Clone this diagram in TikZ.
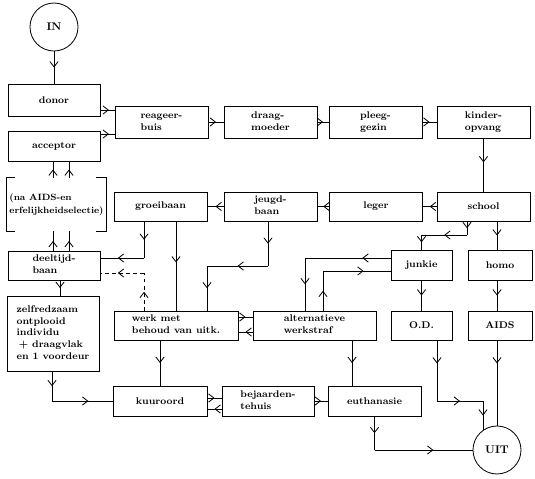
\documentclass[tikz,border=0pt]{standalone}
\usetikzlibrary{arrows.meta, decorations.markings}

% left-aligned block of lines, centred in its box
\newcommand{\stk}[1]{\begin{tabular}{@{}l@{}}#1\end{tabular}}

\begin{document}
\begin{tikzpicture}[
    x=0.03cm, y=-0.03cm,
    line width=0.7pt,
    box/.style={draw, minimum width=2.79cm, minimum height=0.9cm,
                inner sep=1pt,
                font=\fontsize{8.3}{10}\selectfont\bfseries},
    term/.style={draw, circle, minimum size=1.44cm, inner sep=0pt,
                 font=\fontsize{9.5}{11}\selectfont\bfseries},
    sel/.style={minimum width=2.97cm, minimum height=1.59cm, inner sep=0pt,
                font=\fontsize{7.8}{11}\selectfont\bfseries},
    arr/.style={postaction={decorate},
                decoration={markings, mark=at position #1 with
                  {\arrow{Straight Barb[length=4.5pt,width=7pt]}}}},
    arr/.default=0.5
]
  \useasboundingbox (0,0) rectangle (535,478);

  % begin and end
  \node[term] (in) at (54,27) {IN};
  \node[term] (uit) at (497,450) {UIT};

  % left column
  \node[box,minimum width=2.76cm,minimum height=0.96cm] (donor) at (54,100) {donor};
  \node[box,minimum width=2.76cm] (acceptor) at (54,146) {acceptor};
  \node[sel] (selectie) at (56.5,204.5) {\stk{(na AIDS-en\\erfelijkheidselectie)}};
  \node[box,minimum width=2.76cm,minimum height=0.87cm] (deeltijd) at (54,265.5) {\stk{deeltijd-\\baan}};
  \node[box,minimum width=2.76cm,minimum height=2.25cm] (zelf) at (53,333.5)
       {\stk{zelfredzaam\\ontplooid\\individu\\\hspace{2pt}+ draagvlak\\en 1 voordeur}};

  % top row
  \node[box,minimum height=0.96cm] (reageer) at (161.5,122) {\stk{reageer-\\buis}};
  \node[box,minimum height=0.96cm] (draag) at (270.5,122) {\stk{draag-\\moeder}};
  \node[box,minimum height=0.96cm] (pleeg) at (375.5,122) {\stk{pleeg-\\gezin}};
  \node[box,minimum height=0.96cm] (kinder) at (483.5,122) {\stk{kinder-\\opvang}};

  % second row
  \node[box,minimum height=0.87cm] (school) at (483.5,206.5) {school};
  \node[box,minimum height=0.87cm] (leger) at (376,206.5) {leger};
  \node[box,minimum height=0.87cm] (jeugd) at (270.5,206.5) {\stk{jeugd-\\baan}};
  \node[box,minimum height=0.87cm] (groei) at (160.5,206.5) {groeibaan};

  % right side
  \node[box,minimum width=1.83cm] (junkie) at (421.5,265) {junkie};
  \node[box,minimum width=1.92cm] (homo) at (500,265) {homo};
  \node[box,minimum width=1.83cm,minimum height=0.87cm] (od) at (421.5,325.5) {O.D.};
  \node[box,minimum width=1.92cm,minimum height=0.87cm] (aids) at (500,325.5) {AIDS};

  % work
  \node[box,minimum width=3.72cm,minimum height=0.87cm] (werk) at (176,325.5) {\stk{werk met\\behoud van uitk.}};
  \node[box,minimum width=3.69cm,minimum height=0.87cm] (alt) at (314.5,325.5) {\stk{alternatieve\\werkstraf}};

  % bottom row
  \node[box,minimum width=2.82cm] (kuur) at (160,401) {kuuroord};
  \node[box,minimum width=2.76cm] (bej) at (268,401) {\stk{bejaarden-\\tehuis}};
  \node[box] (euth) at (374.5,401) {euthanasie};

  % brackets round the selection
  \draw ([xshift=0.24cm]selectie.north west) -- (selectie.north west)
        -- (selectie.south west) -- ++(8,0);
  \draw ([xshift=-0.3cm]selectie.north east) -- (selectie.north east)
        -- (selectie.south east) -- ++(-10,0);

  % bends
  \coordinate (gb) at (144,258);
  \coordinate (wb) at (144,273);
  \coordinate (jb1) at (268,266);
  \coordinate (jb2) at (207,266);
  \coordinate (sj1) at (467,235);
  \coordinate (sj2) at (421.5,235);
  \coordinate (ja) at (305,258);
  \coordinate (aj) at (323,271);
  \coordinate (zk) at (52,401);
  \coordinate (ou) at (437,401);
  \coordinate (eu) at (euth.south |- uit.west);

  % arrows
  \draw[arr] (in) -- (donor);
  \draw[arr=0.6] (donor.east |- 0,110) -- (reageer.west |- 0,110);
  \draw[arr=0.6] (acceptor.east |- 0,134) -- (reageer.west |- 0,134);
  \draw[arr] (reageer) -- (draag);
  \draw[arr] (draag) -- (pleeg);
  \draw[arr] (pleeg) -- (kinder);
  \draw[arr=0.45] (kinder) -- (school);
  \draw[arr] (school) -- (leger);
  \draw[arr] (leger) -- (jeugd);
  \draw[arr] (jeugd) -- (groei);

  \draw[arr] (selectie.north -| 53,0) -- (acceptor.south -| 53,0);
  \draw[arr] (selectie.north -| 69,0) -- (acceptor.south -| 69,0);
  \draw[arr] (deeltijd.north -| 53,0) -- (selectie.south -| 53,0);
  \draw[arr] (deeltijd.north -| 69,0) -- (selectie.south -| 69,0);
  \draw[arr] (deeltijd.south -| 60,0) -- (zelf.north -| 60,0);

  \draw[arr] (groei.south -| gb) -- (gb);
  \draw[arr=0.6] (gb) -- (deeltijd.east |- gb);
  \draw[arr,dashed] (werk.north -| wb) -- (wb);
  \draw[arr=0.6,dashed] (wb) -- (deeltijd.east |- wb);
  \draw[arr=0.46] (groei.south -| 176,0) -- (werk.north -| 176,0);

  \draw[arr] (jeugd.south -| jb1) -- (jb1);
  \draw[arr] (jb1) -- (jb2);
  \draw[arr] (jb2) -- (werk.north -| jb2);

  \draw[arr] (school.south -| sj1) -- (sj1);
  \draw[arr] (sj1) -- (sj2);
  \draw[arr] (sj2) -- (junkie.north);
  \draw[arr] (school.south -| 497,0) -- (homo.north -| 497,0);
  \draw[arr] (junkie) -- (od);
  \draw[arr] (homo.south -| 497,0) -- (aids.north -| 497,0);

  \draw[arr=0.33] (junkie.west |- ja) -- (ja);
  \draw[arr] (ja) -- (alt.north -| ja);
  \draw[arr] (alt.north -| aj) -- (aj);
  \draw[arr=0.6] (aj) -- (junkie.west |- aj);

  \draw[arr] (werk.east |- 0,317) -- (alt.west |- 0,317);
  \draw[arr] (alt.west |- 0,332) -- (werk.east |- 0,332);
  \draw[arr] (werk.south -| kuur.north) -- (kuur.north);
  \draw[arr] (alt.south -| 352,0) -- (euth.north -| 352,0);

  \draw[arr] (zelf.south -| zk) -- (zk);
  \draw[arr=0.6] (zk) -- (kuur.west);
  \draw[arr] (kuur.east |- 0,398) -- (bej.west |- 0,398);
  \draw[arr] (bej.west |- 0,409) -- (kuur.east |- 0,409);
  \draw[arr] (bej) -- (euth);

  \draw[arr=0.38] (od.south -| ou) -- (ou);
  \draw[arr] (ou) -- (ou -| uit.125);
  \draw[arr] (ou -| uit.125) -- (uit.125);
  \draw[arr=0.27] (aids.south -| uit.north) -- (uit.north);
  \draw[arr] (euth.south -| eu) -- (eu);
  \draw[arr=0.6] (eu) -- (uit.west);
\end{tikzpicture}
\end{document}
